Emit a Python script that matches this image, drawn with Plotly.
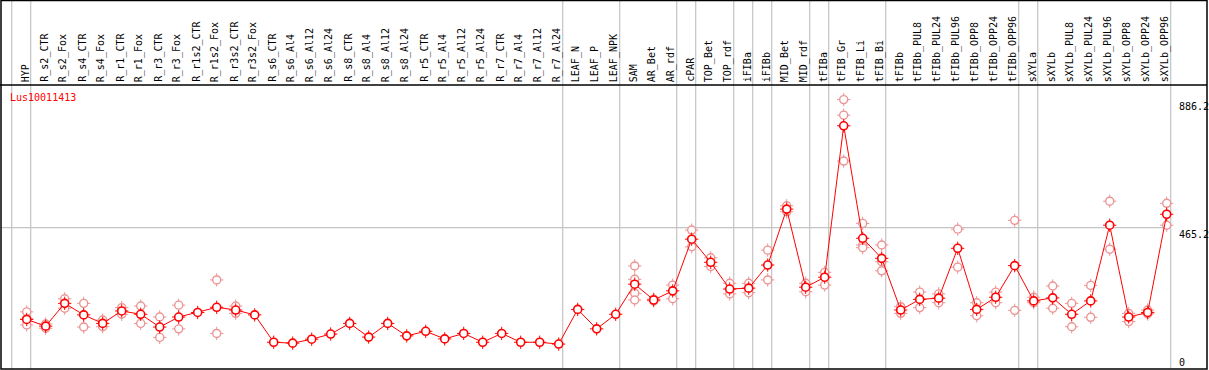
import plotly.graph_objects as go

gene = "Lus10011413"

categories = [
    "HYP", "R_s2_CTR", "R_s2_Fox", "R_s4_CTR", "R_s4_Fox", "R_r1_CTR", "R_r1_Fox",
    "R_r3_CTR", "R_r3_Fox", "R_r1s2_CTR", "R_r1s2_Fox", "R_r3s2_CTR", "R_r3s2_Fox",
    "R_s6_CTR", "R_s6_Al4", "R_s6_Al12", "R_s6_Al24", "R_s8_CTR", "R_s8_Al4",
    "R_s8_Al12", "R_s8_Al24", "R_r5_CTR", "R_r5_Al4", "R_r5_Al12", "R_r5_Al24",
    "R_r7_CTR", "R_r7_Al4", "R_r7_Al12", "R_r7_Al24", "LEAF_N", "LEAF_P", "LEAF_NPK",
    "SAM", "AR_Bet", "AR_rdf", "cPAR", "TOP_Bet", "TOP_rdf", "iFIBa", "iFIBb",
    "MID_Bet", "MID_rdf", "tFIBa", "tFIB_Gr", "tFIB_Li", "tFIB_Bi", "tFIBb",
    "tFIBb_PUL8", "tFIBb_PUL24", "tFIBb_PUL96", "tFIBb_OPP8", "tFIBb_OPP24",
    "tFIBb_OPP96", "sXYLa", "sXYLb", "sXYLb_PUL8", "sXYLb_PUL24", "sXYLb_PUL96",
    "sXYLb_OPP8", "sXYLb_OPP24", "sXYLb_OPP96",
]

means = [
    163, 141, 216, 178, 150, 191, 180, 138, 171, 186, 203, 194, 178,
    88, 85, 98, 115, 150, 105, 150, 109, 124, 99, 117, 88,
    117, 88, 88, 82, 196, 132, 180,
    279, 227, 257, 427, 351, 263, 266, 342,
    526, 269, 302, 800, 430, 364, 194,
    229, 233, 397, 196, 236, 340,
    224, 234, 180, 224, 473, 171, 186, 509,
]

replicates = [
    [188, 165, 145], [134, 148], [231, 200], [216, 138], [161, 139], [202, 180],
    [207, 150], [171, 104], [210, 132], [], [293, 117], [207, 183], [],
    [], [], [], [], [], [], [], [], [], [], [], [],
    [], [], [], [], [], [], [],
    [339, 295, 249, 227], [230, 224], [276, 231], [457, 402], [366, 337],
    [282, 247], [282, 251], [391, 293],
    [537, 517], [282, 254], [318, 276], [886.2, 835, 684], [479, 408, 399],
    [408, 353, 323], [205, 183],
    [253, 202], [247, 218], [460, 335], [218, 175], [253, 218], [489, 193],
    [236, 218], [273, 200], [216, 139], [275, 170], [552, 394], [183, 156],
    [194, 181], [545, 473],
]

group_ends = [-1, 0, 28, 31, 34, 35, 37, 38, 39, 41, 42, 45, 52, 53, 60]
y_labels = [886.2, 465.2, 0]
grid_value = 465.2

W, H = 1209, 370
STEP = 19.0
X0 = 26.7
PLOT_TOP, PLOT_BOTTOM = 85, 369
Y_MAX = (PLOT_BOTTOM - PLOT_TOP) / 0.304

MEAN_COLOR = "#ff0000"
REP_COLOR = "#ec9494"
GRID_COLOR = "#c4c4c4"
FONT = "DejaVu Sans Mono"

xs = list(range(len(categories)))
rep_x = [i for i, reps in enumerate(replicates) for _ in reps]
rep_y = [v for reps in replicates for v in reps]

fig = go.Figure()


def add_markers(x, y, color, width):
    fig.add_trace(go.Scatter(
        x=x, y=y, mode="markers", hoverinfo="skip", cliponaxis=False,
        marker=dict(symbol="cross-thin-open", size=9.5, color=color,
                    line=dict(color=color, width=1)),
    ))
    fig.add_trace(go.Scatter(
        x=x, y=y, mode="markers", cliponaxis=False,
        marker=dict(symbol="circle", size=8, color="white",
                    line=dict(color=color, width=width)),
    ))


add_markers(rep_x, rep_y, REP_COLOR, 1.4)
fig.add_trace(go.Scatter(x=xs, y=means, mode="lines", cliponaxis=False,
                         line=dict(color=MEAN_COLOR, width=1)))
add_markers(xs, means, MEAN_COLOR, 1.6)

shapes = []
for b in group_ends:
    shapes.append(dict(type="line", xref="x", yref="paper",
                       x0=b + 4 / STEP, x1=b + 4 / STEP,
                       y0=(H - PLOT_BOTTOM) / H, y1=1,
                       line=dict(color=GRID_COLOR, width=1.2), layer="below"))
shapes.append(dict(type="line", xref="x", yref="y",
                   x0=(1 - X0) / STEP, x1=group_ends[-1] + 4 / STEP,
                   y0=grid_value, y1=grid_value,
                   line=dict(color=GRID_COLOR, width=1.2), layer="below"))
# header separator and frame
shapes.append(dict(type="line", xref="paper", yref="paper",
                   x0=0, x1=1207 / W, y0=(H - PLOT_TOP) / H, y1=(H - PLOT_TOP) / H,
                   line=dict(color="black", width=1.5)))
shapes.append(dict(type="rect", xref="paper", yref="paper",
                   x0=1 / W, x1=1207 / W, y0=(H - PLOT_BOTTOM) / H, y1=(H - 0.5) / H,
                   line=dict(color="black", width=1.5)))

annotations = []
for i, c in enumerate(categories):
    annotations.append(dict(
        x=i, xref="x", y=(H - 83) / H, yref="paper", text=c, showarrow=False,
        textangle=-90, xanchor="center", yanchor="bottom", xshift=-1.5,
        font=dict(family=FONT, size=10, color="black"), borderpad=0,
    ))
annotations.append(dict(
    x=9 / W, xref="paper", y=(H - 97) / H, yref="paper", text=gene,
    showarrow=False, xanchor="left", yanchor="middle",
    font=dict(family=FONT, size=10, color=MEAN_COLOR), borderpad=0,
))
for v in y_labels:
    annotations.append(dict(
        x=1178 / W, xref="paper", y=v, yref="y", text=f"{v:g}",
        showarrow=False, xanchor="left", yanchor="bottom" if v == 0 else "top",
        font=dict(family=FONT, size=10, color="black"), borderpad=0,
    ))

fig.update_layout(
    width=W, height=H, margin=dict(l=0, r=0, t=0, b=0),
    paper_bgcolor="white", plot_bgcolor="white", showlegend=False,
    xaxis=dict(range=[-X0 / STEP, (W - X0) / STEP], visible=False, domain=[0, 1]),
    yaxis=dict(range=[0, Y_MAX], visible=False,
               domain=[(H - PLOT_BOTTOM) / H, (H - PLOT_TOP) / H]),
    shapes=shapes, annotations=annotations,
)

fig.write_html("out.html", config={"displayModeBar": False},
               post_script="document.body.style.margin='0px';")
